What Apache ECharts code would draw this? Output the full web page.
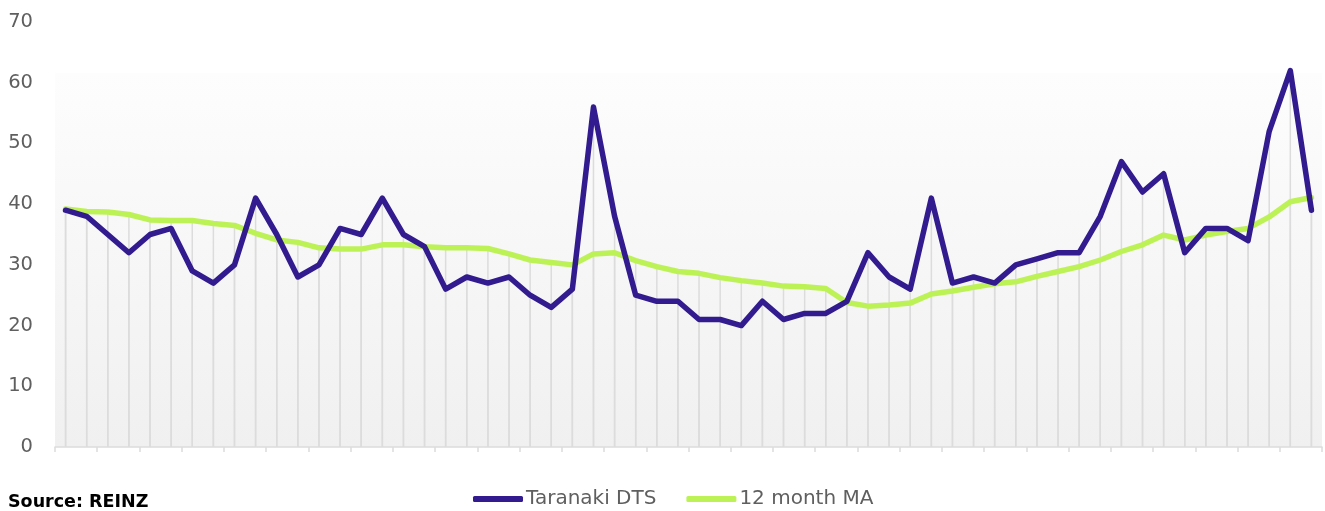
<!DOCTYPE html>
<html>
<head>
<meta charset="utf-8">
<script src="https://cdn.jsdelivr.net/npm/echarts@6/dist/echarts.min.js"></script>
<style>
  html, body { margin: 0; padding: 0; background: #fff; }
  #chart { width: 1325px; height: 511px; }
</style>
</head>
<body>
<div id="chart"></div>
<script>
// Taranaki days to sell, monthly, with 12 month moving average
const months = Array.from({ length: 60 }, (_, i) => 'M' + (i + 1))
const dts = [
  39, 38, 35, 32, 35, 36, 29, 27, 30, 41,
  35, 28, 30, 36, 35, 41, 35, 33, 26, 28,
  27, 28, 25, 23, 26, 56, 38, 25, 24, 24,
  21, 21, 20, 24, 21, 22, 22, 24, 32, 28,
  26, 41, 27, 28, 27, 30, 31, 32, 32, 38,
  47, 42, 45, 32, 36, 36, 34, 52, 62, 39
]
const ma12 = [
  39.2, 38.8, 38.7, 38.3, 37.4, 37.3, 37.3, 36.8, 36.5, 35.2,
  34.1, 33.7, 32.8, 32.6, 32.6, 33.3, 33.3, 33.0, 32.8, 32.8,
  32.7, 31.8, 30.8, 30.4, 30.0, 31.8, 32.0, 30.7, 29.7, 28.9,
  28.6, 27.9, 27.4, 27.0, 26.5, 26.4, 26.1, 23.8, 23.2, 23.4,
  23.7, 25.2, 25.7, 26.3, 26.9, 27.2, 28.1, 28.9, 29.7, 30.8,
  32.2, 33.3, 34.9, 34.1, 34.9, 35.5, 36.0, 37.9, 40.4, 41.1
]
const yTicks = [0, 10, 20, 30, 40, 50, 60, 70]

const purple = '#311b8f'
const green = '#bdf257'
const dropColor = '#dcdcdc'
const font = 'DejaVu Sans'

const chart = echarts.init(document.getElementById('chart'))
const option = {
  animation: false,
  backgroundColor: '#fff',
  textStyle: { fontFamily: font },
  grid: {
    left: 55, right: 3, top: 22, bottom: 64,
    show: true,
    borderWidth: 0,
    backgroundColor: new echarts.graphic.LinearGradient(0, 0, 0, 1, [
      { offset: 0, color: '#ffffff' },
      { offset: 0.12, color: '#ffffff' },
      { offset: 0.121, color: '#fdfdfd' },
      { offset: 1, color: '#f0f0f0' }
    ])
  },
  legend: {
    top: 484,
    left: 468,
    itemWidth: 50,
    itemHeight: 6,
    itemGap: 30,
    icon: 'roundRect',
    textStyle: { fontSize: 20, color: '#5f5f5f', fontFamily: font, padding: [0, 0, 0, -2] },
    data: ['Taranaki DTS', '12 month MA']
  },
  graphic: [{
    type: 'text',
    left: 8,
    top: 493,
    style: { text: 'Source: REINZ', fontSize: 17.5, fontWeight: 'bold', fill: '#000', fontFamily: font }
  }],
  xAxis: {
    type: 'category',
    data: months,
    boundaryGap: true,
    axisLine: { lineStyle: { color: dropColor, width: 1.5 } },
    axisTick: { show: true, length: 5, lineStyle: { color: dropColor, width: 1.5 } },
    axisLabel: { show: false },
    splitLine: { show: false }
  },
  yAxis: {
    type: 'value',
    min: yTicks[0],
    max: yTicks[yTicks.length - 1],
    interval: 10,
    axisLine: { show: false },
    axisTick: { show: false },
    splitLine: { show: false },
    axisLabel: { color: '#5f5f5f', fontSize: 19.5, margin: 22, fontFamily: font }
  },
  series: [
    {
      name: 'drop-dts', type: 'bar', data: dts, barWidth: 1.5, barGap: '-100%',
      itemStyle: { color: dropColor }, silent: true, z: 1
    },
    {
      name: 'drop-ma', type: 'bar', data: ma12, barWidth: 1.5, barGap: '-100%',
      itemStyle: { color: dropColor }, silent: true, z: 1
    },
    {
      name: 'Taranaki DTS', type: 'line', data: dts, showSymbol: false, z: 4,
      itemStyle: { color: purple },
      lineStyle: { color: purple, width: 5.5, cap: 'round', join: 'round' }
    },
    {
      name: '12 month MA', type: 'line', data: ma12, showSymbol: false, z: 3,
      itemStyle: { color: green },
      lineStyle: { color: green, width: 5.5, cap: 'round', join: 'round' }
    }
  ]
}
chart.setOption(option)
</script>
</body>
</html>
